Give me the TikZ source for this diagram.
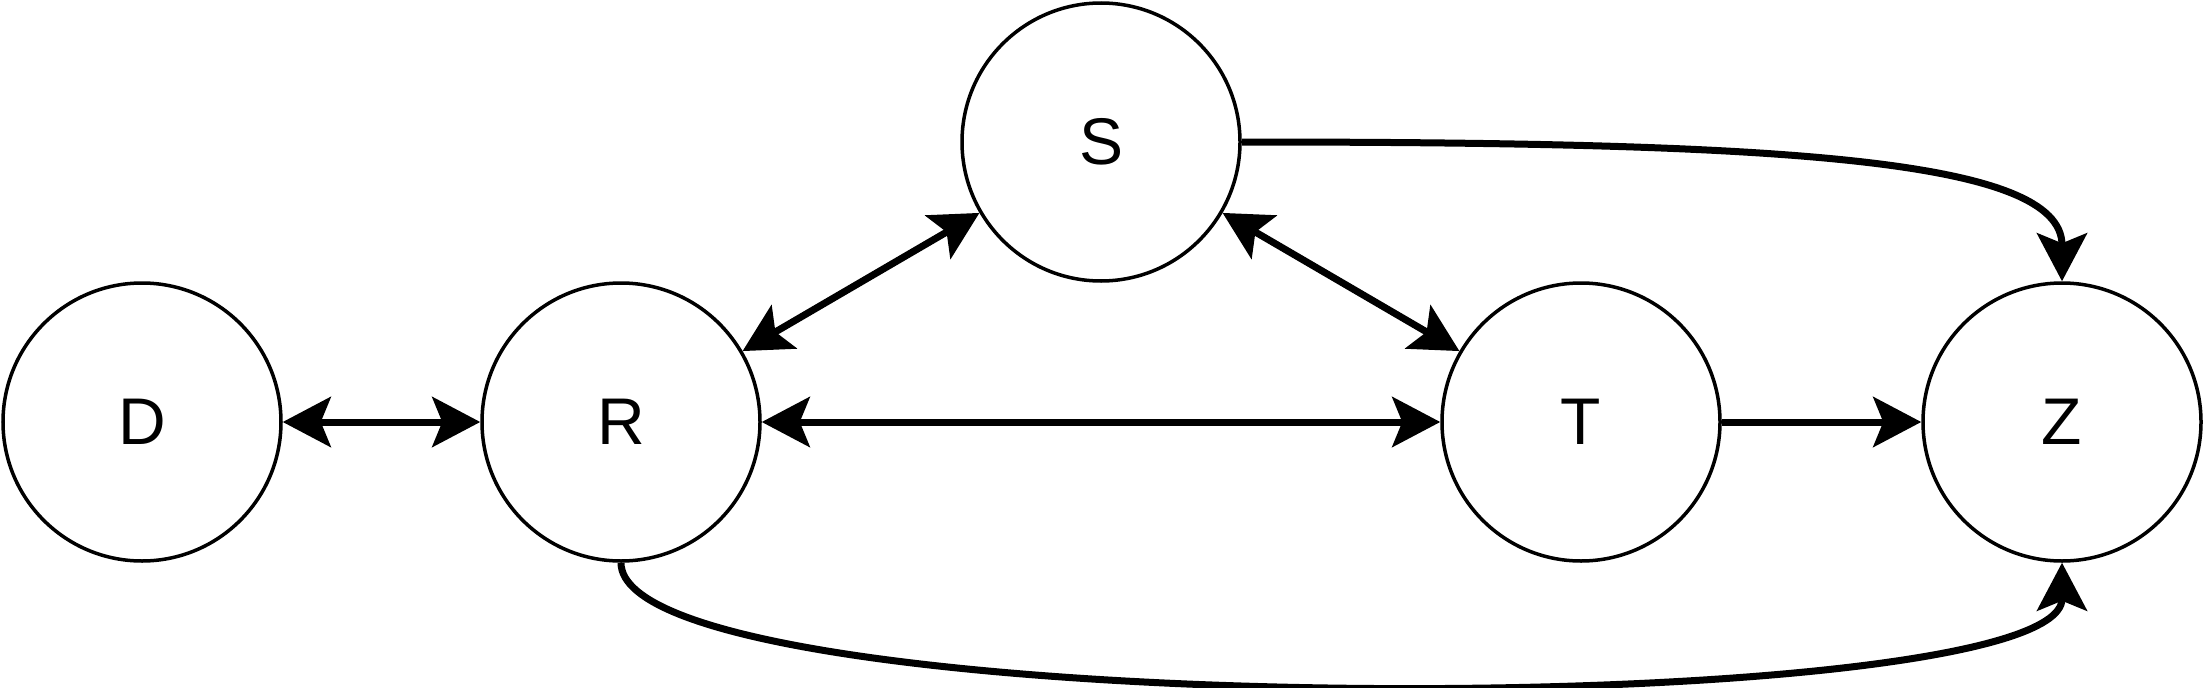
\documentclass[tikz,border=0pt]{standalone}
\usepackage{fontspec}
\setmainfont{Liberation Sans}
\usetikzlibrary{arrows.meta}
\begin{document}
\begin{tikzpicture}[x=1pt,y=-1pt,
  vnode/.style={circle,draw,line width=3.5pt,minimum size=278pt,inner sep=0pt,
    font=\fontsize{66}{72}\selectfont},
  conn/.style={line width=7pt},
  >={Stealth[length=48pt,width=50pt,inset=10pt]}]
\useasboundingbox (0,0) rectangle (2204,688);
\node[vnode] (D) at (142,422) {D};
\node[vnode] (R) at (621,422) {R};
\node[vnode] (S) at (1101,142) {S};
\node[vnode] (T) at (1581,422) {T};
\node[vnode] (Z) at (2062,422) {Z};
\draw[conn,<->] (D) -- (R);
\draw[conn,<->] (R) -- (T);
\draw[conn,->] (T) -- (Z);
\draw[conn,<->] (R) -- (S);
\draw[conn,<->] (S) -- (T);
\draw[conn,->] (S.east) .. controls (1780,142) and (2062,158) .. (Z.north);
\draw[conn,->] (R.south) .. controls (621,724) and (2062,724) .. (Z.south);
\end{tikzpicture}
\end{document}
